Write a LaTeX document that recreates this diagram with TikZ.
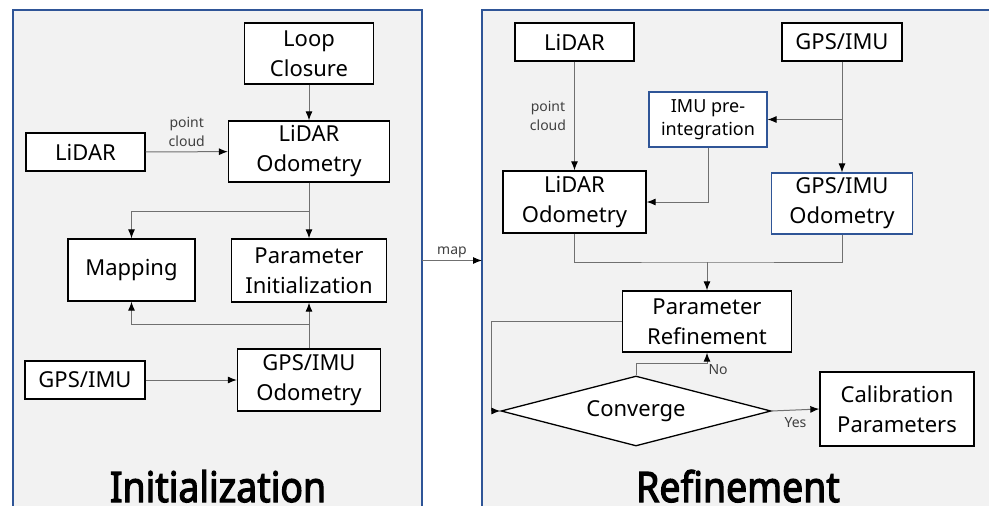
\documentclass[tikz,border=0pt]{standalone}
\usepackage{fontspec}
\setmainfont{Noto Sans}
\newfontfamily\titlefont{Noto Sans}[AutoFakeBold=3]
\usepackage{xcolor}
\usetikzlibrary{shapes.geometric,arrows.meta}

\definecolor{panelblue}{HTML}{2F5597}
\definecolor{panelgray}{HTML}{F2F2F2}
\definecolor{linkgray}{HTML}{707070}

\tikzset{
  block/.style={draw=black,fill=white,line width=1.3pt,align=center,inner sep=0pt,
    font=\fontsize{22}{30}\selectfont},
  blueblock/.style={block,draw=panelblue,line width=1.1pt},
  link/.style={draw=linkgray,line width=1pt,-{Latex[black,length=9pt,width=7pt]}},
  note/.style={font=\fontsize{14}{19}\selectfont,text=black!75,align=center,inner sep=2pt},
  stagetitle/.style={font=\titlefont\fontsize{42}{42}\selectfont\bfseries,anchor=base,inner sep=0pt}
}

\begin{document}
\begin{tikzpicture}[x=1pt,y=-1pt]
\useasboundingbox (0,0) rectangle (989,506);
\clip (0,0) rectangle (989,506);
\fill[white] (0,0) rectangle (989,506);

% The panels
\draw[panelblue,fill=panelgray,line width=1.2pt] (13,10) rectangle (422,530);
\draw[panelblue,fill=panelgray,line width=1.2pt] (482,10) rectangle (1010,530);

% The boxes: initialization
\node[block,minimum width=129pt,minimum height=61pt] (loopc) at (309,53.5) {Loop\\Closure};
\node[block,minimum width=119pt,minimum height=38pt] (lidarA) at (85.5,152) {LiDAR};
\node[block,minimum width=161pt,minimum height=61pt] (lodoA) at (309,151.5) {LiDAR\\Odometry};
\node[block,minimum width=127pt,minimum height=62pt] (mapping) at (131.5,270) {Mapping};
\node[block,minimum width=155pt,minimum height=63pt] (pinit) at (309,270.5) {Parameter\\Initialization};
\node[block,minimum width=120pt,minimum height=38pt] (gpsA) at (85,380) {GPS/IMU};
\node[block,minimum width=143pt,minimum height=62pt] (godoA) at (309,380) {GPS/IMU\\Odometry};

% The boxes: refinement
\node[block,minimum width=119pt,minimum height=38pt] (lidarB) at (574.5,42) {LiDAR};
\node[block,minimum width=120pt,minimum height=38pt] (gpsB) at (842,42) {GPS/IMU};
\node[blueblock,minimum width=118pt,minimum height=55pt,
  font=\fontsize{18}{23}\selectfont] (preint) at (708,119.5) {IMU pre-\\integration};
\node[block,minimum width=143pt,minimum height=62pt] (lodoB) at (574.5,202) {LiDAR\\Odometry};
\node[blueblock,minimum width=141pt,minimum height=61pt] (godoB) at (842,203.5) {GPS/IMU\\Odometry};
\node[block,minimum width=169pt,minimum height=61pt] (pref) at (707,321.5) {Parameter\\Refinement};
\node[block,diamond,aspect=3.86,minimum width=270pt,minimum height=70pt] (conv) at (636,411) {Converge};
\node[block,minimum width=154pt,minimum height=74pt] (calib) at (897,409) {Calibration\\Parameters};

% The arrows
\draw[link] (loopc) -- (lodoA);
\draw[link] (lidarA) -- node[note,above=3pt] {point\\cloud} (lodoA);
\draw[link] (lodoA) -- (pinit);
\draw[link] (lodoA.south) -- ++(0,29) -| (mapping.north);
\draw[link] (godoA) -- (pinit);
\draw[link] (godoA.north) -- ++(0,-24) -| (mapping.south);
\draw[link] (gpsA) -- (godoA);

\coordinate (mapout) at (422,260.5);
\coordinate (mapin) at (482,260.5);
\draw[link] (mapout) -- node[note,above] {map} (mapin);

\draw[link] (lidarB) -- node[note,left=6pt] {point\\cloud} (lodoB);
\draw[link] (gpsB) -- (godoB);
\draw[link] (preint.east -| gpsB.south) -- (preint.east);
\draw[link] (preint.south) |- (lodoB.east);
\coordinate (joinB) at (707,262);
\draw[draw=linkgray,line width=1pt] (lodoB.south) |- (joinB) -| (godoB.south);
\draw[link] (joinB) -- (pref.north);
\draw[link] (pref.west) -- ++(-130,0) |- (conv.west);
\draw[link] (conv.north) -- ++(0,-12) -| (pref.south)
  node[note,anchor=north west,inner sep=1pt,yshift=-10pt] {No};
\draw[link] (conv.east) -- node[note,below=5pt] {Yes} (calib.west);

% The labels
\node[stagetitle] (initTitle) at (218,502) {\scalebox{0.89}[1]{Initialization}};
\node[stagetitle] (refTitle) at (738,502) {\scalebox{0.89}[1]{Refinement}};
\end{tikzpicture}
\end{document}
